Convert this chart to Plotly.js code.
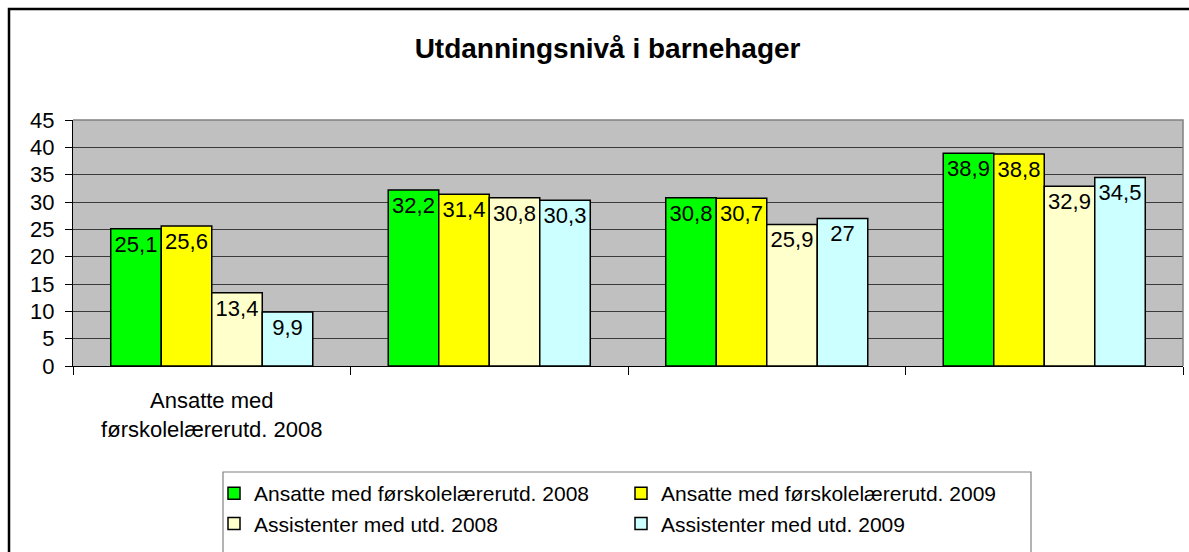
<!DOCTYPE html>
<html>
<head>
<meta charset="utf-8">
<script src="https://cdn.plot.ly/plotly-3.0.1.min.js"></script>
<style>
  html, body { margin: 0; padding: 0; background: #ffffff; }
  #chart { width: 1189px; height: 552px; }
</style>
</head>
<body>
<div id="chart"></div>
<script>
// ---- data ----
const categoryLabels = ['Ansatte med<br>førskolelærerutd. 2008', '', '', ''];
const seriesNames = [
  'Ansatte med førskolelærerutd. 2008',
  'Ansatte med førskolelærerutd. 2009',
  'Assistenter med utd. 2008',
  'Assistenter med utd. 2009'
];
const ansatte2008 = [25.1, 32.2, 30.8, 38.9];
const ansatte2009 = [25.6, 31.4, 30.7, 38.8];
const assistenter2008 = [13.4, 30.8, 25.9, 32.9];
const assistenter2009 = [9.9, 30.3, 27, 34.5];
const seriesColors = ['#00ff00', '#ffff00', '#ffffcc', '#ccffff'];
const yTicks = [0, 5, 10, 15, 20, 25, 30, 35, 40, 45];

const FONT = '"Liberation Sans", Arial, sans-serif';
const xIdx = categoryLabels.map((_, i) => i);
const boundaries = categoryLabels.map((_, i) => i - 0.5).concat([categoryLabels.length - 0.5]);
const fmt = v => String(v).replace('.', ',');

const allSeries = [ansatte2008, ansatte2009, assistenter2008, assistenter2009];
const traces = allSeries.map((vals, k) => ({
  type: 'bar',
  name: seriesNames[k],
  x: xIdx,
  y: vals,
  text: vals.map(fmt),
  textposition: 'inside',
  insidetextanchor: 'end',
  constraintext: 'none',
  textangle: 0,
  textfont: { family: FONT, size: 22, color: '#000000' },
  insidetextfont: { family: FONT, size: 22, color: '#000000' },
  marker: { color: seriesColors[k], line: { color: '#000000', width: 1.5 } },
  hoverinfo: 'skip'
}));

// plot area geometry helpers (decoration shapes only)
const W = 1189, H = 552, mL = 73, mR = 6, mT = 120, mB = 186;
const pw = W - mL - mR, ph = H - mT - mB;
const px = x => (x - mL) / pw;
const py = y => (H - mB - y) / ph;

const layout = {
  width: W,
  height: H,
  margin: { l: mL, r: mR, t: mT, b: mB, pad: 0 },
  paper_bgcolor: '#ffffff',
  plot_bgcolor: '#c0c0c0',
  font: { family: FONT, color: '#000000' },
  title: {
    text: '<b>Utdanningsnivå i barnehager</b>',
    font: { family: FONT, size: 28, color: '#000000' },
    xref: 'container', yref: 'container',
    x: 0.511, xanchor: 'center',
    y: 1 - 48 / H, yanchor: 'middle'
  },
  barmode: 'group',
  bargap: 0.272,
  bargroupgap: 0,
  showlegend: true,
  legend: {
    orientation: 'h',
    xref: 'container', yref: 'container',
    x: 214 / W, xanchor: 'left',
    y: 1 - 473 / H, yanchor: 'top',
    entrywidth: 362, entrywidthmode: 'pixels',
    font: { family: FONT, size: 21, color: '#000000' },
    bgcolor: 'rgba(0,0,0,0)',
    borderwidth: 0,
    traceorder: 'normal'
  },
  xaxis: {
    range: [-0.5, categoryLabels.length - 0.5],
    tickmode: 'array',
    tickvals: xIdx,
    ticktext: categoryLabels,
    ticks: '',
    ticklabelstandoff: 15,
    tickfont: { family: FONT, size: 22, color: '#000000' },
    showgrid: false,
    zeroline: false,
    showline: true,
    linecolor: '#000000',
    linewidth: 1,
    minor: {
      tickmode: 'array',
      tickvals: boundaries,
      ticks: 'outside',
      ticklen: 8,
      tickwidth: 1,
      tickcolor: '#000000',
      showgrid: false
    },
    fixedrange: true
  },
  yaxis: {
    range: [0, 45],
    tickmode: 'array',
    tickvals: yTicks,
    ticktext: yTicks.map(String),
    ticks: 'outside',
    ticklen: 7,
    tickwidth: 1,
    tickcolor: '#000000',
    ticklabelstandoff: 6,
    tickfont: { family: FONT, size: 22, color: '#000000' },
    showgrid: true,
    gridcolor: '#3a3a3a',
    gridwidth: 1,
    zeroline: false,
    showline: true,
    linecolor: '#000000',
    linewidth: 1,
    fixedrange: true
  },
  shapes: [
    // plot area border (top and right), grey
    { type: 'path', xref: 'paper', yref: 'paper',
      path: 'M 0,1 L 1,1 L 1,0',
      line: { color: '#808080', width: 1.5 }, layer: 'above' },
    // outer chart border (left and top visible)
    { type: 'path', xref: 'paper', yref: 'paper',
      path: `M ${px(9)},${py(560)} L ${px(9)},${py(9)} L ${px(1200)},${py(9)}`,
      line: { color: '#000000', width: 2.5 }, layer: 'above' },
    // legend box
    { type: 'path', xref: 'paper', yref: 'paper',
      path: `M ${px(223)},${py(560)} L ${px(223)},${py(472)} L ${px(1031)},${py(472)} L ${px(1031)},${py(560)}`,
      line: { color: '#808080', width: 1.2 }, layer: 'above' }
  ]
};

Plotly.newPlot('chart', traces, layout, { displayModeBar: false, staticPlot: true });
</script>
</body>
</html>
